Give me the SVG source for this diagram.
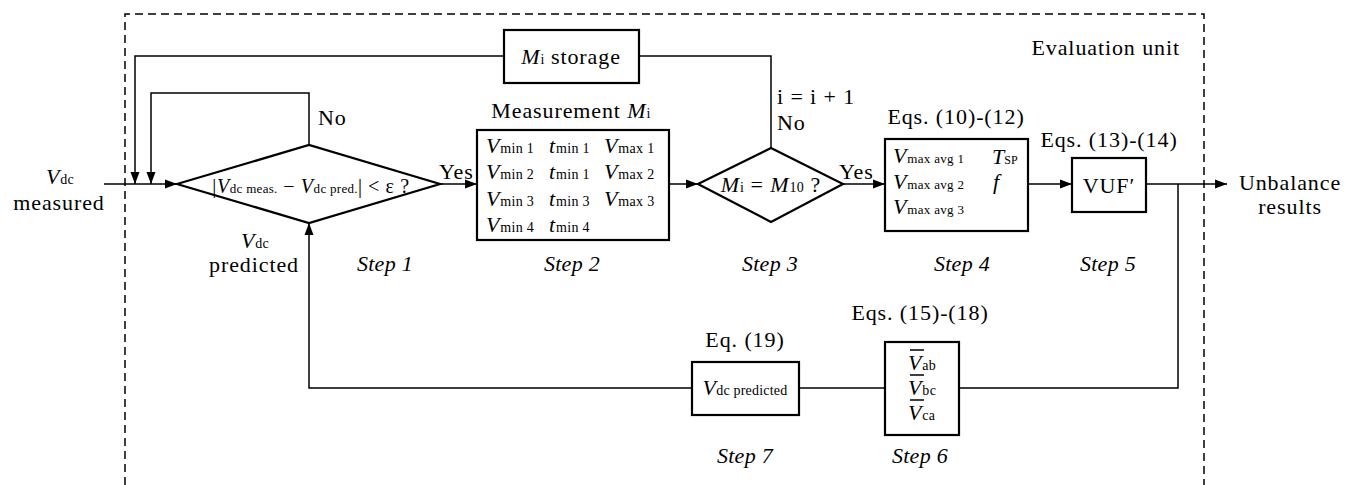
<svg xmlns="http://www.w3.org/2000/svg" width="1351" height="485" viewBox="0 0 1351 485">
  <style>
    text { font-family: "Liberation Serif", "Times New Roman", serif; font-size: 22px; letter-spacing: 0.9px; fill: #000; }
    .it { font-style: italic; }
    .step { font-style: italic; letter-spacing: 0.3px; }
    .s { font-size: 14px; font-style: normal; letter-spacing: 0.3px; }
    .ss { font-size: 13px; font-style: normal; letter-spacing: 0.3px; }
    .mid { text-anchor: middle; }
    .box { fill: #fff; stroke: #000; stroke-width: 2.2; }
    .wire { fill: none; stroke: #000; stroke-width: 1.5; }
    .border { fill: none; stroke: #000; stroke-width: 1.5; stroke-dasharray: 8 5; }
  </style>
  <defs>
    <marker id="arrow" markerUnits="userSpaceOnUse" markerWidth="13" markerHeight="10" refX="12" refY="5" orient="auto">
      <path d="M0,0.5 L12,5 L0,9.5 Z" fill="#000"/>
    </marker>
  </defs>

  <!-- evaluation unit frame -->
  <path class="border" d="M125,485 V14 H1204 V485"/>
  <text x="1180" y="55" style="text-anchor:end">Evaluation unit</text>

  <!-- connectors -->
  <g id="connectors">
    <path class="wire" d="M104,184 H177" marker-end="url(#arrow)"/>
    <path class="wire" d="M504,56 H135 V184" marker-end="url(#arrow)"/>
    <path class="wire" d="M639,56 H771 V148"/>
    <path class="wire" d="M309,145 V93 H151 V184" marker-end="url(#arrow)"/>
    <path class="wire" d="M440,184 H477" marker-end="url(#arrow)"/>
    <path class="wire" d="M669,184 H698" marker-end="url(#arrow)"/>
    <path class="wire" d="M843,184 H885" marker-end="url(#arrow)"/>
    <path class="wire" d="M1028,184 H1072" marker-end="url(#arrow)"/>
    <path class="wire" d="M1146,184 H1227" marker-end="url(#arrow)"/>
    <path class="wire" d="M1178,184 V388 H959"/>
    <path class="wire" d="M885,388 H799"/>
    <path class="wire" d="M692,388 H309 V223" marker-end="url(#arrow)"/>
  </g>

  <!-- input / output labels -->
  <g id="input">
    <text x="60" y="184" class="mid"><tspan class="it">V</tspan><tspan class="s">dc</tspan></text>
    <text x="59" y="210" class="mid">measured</text>
  </g>
  <g id="output">
    <text x="1290" y="190" class="mid">Unbalance</text>
    <text x="1290" y="214" class="mid">results</text>
  </g>

  <!-- Step 1: comparison -->
  <g id="step1">
    <polygon class="box" points="177,184 309,145 440,184 309,223"/>
    <text x="311" y="193" class="mid" style="font-size:20px;letter-spacing:0.6px">|<tspan class="it">V</tspan><tspan class="ss">dc meas.</tspan> − <tspan class="it">V</tspan><tspan class="ss">dc pred.</tspan>| &lt; ε ?</text>
    <text x="318" y="125">No</text>
    <text x="439" y="179">Yes</text>
    <text x="255" y="248" class="mid"><tspan class="it">V</tspan><tspan class="s">dc</tspan></text>
    <text x="254" y="272" class="mid">predicted</text>
    <text x="385" y="271" class="mid step">Step 1</text>
  </g>

  <!-- storage of measurements -->
  <g id="storage">
    <rect class="box" x="504" y="30" width="135" height="53"/>
    <text x="571" y="64" class="mid"><tspan class="it">M</tspan><tspan class="s">i</tspan>  storage</text>
  </g>

  <!-- Step 2: measurement -->
  <g id="step2">
    <rect class="box" x="477" y="130" width="192" height="110"/>
    <text x="571" y="118" class="mid">Measurement <tspan class="it">M</tspan><tspan class="s">i</tspan></text>
    <text x="486" y="153"><tspan class="it">V</tspan><tspan class="s">min 1</tspan></text>
    <text x="549" y="153"><tspan class="it">t</tspan><tspan class="s">min 1</tspan></text>
    <text x="604" y="153"><tspan class="it">V</tspan><tspan class="s">max 1</tspan></text>
    <text x="486" y="179"><tspan class="it">V</tspan><tspan class="s">min 2</tspan></text>
    <text x="549" y="179"><tspan class="it">t</tspan><tspan class="s">min 1</tspan></text>
    <text x="604" y="179"><tspan class="it">V</tspan><tspan class="s">max 2</tspan></text>
    <text x="486" y="206"><tspan class="it">V</tspan><tspan class="s">min 3</tspan></text>
    <text x="549" y="206"><tspan class="it">t</tspan><tspan class="s">min 3</tspan></text>
    <text x="604" y="206"><tspan class="it">V</tspan><tspan class="s">max 3</tspan></text>
    <text x="486" y="232"><tspan class="it">V</tspan><tspan class="s">min 4</tspan></text>
    <text x="549" y="232"><tspan class="it">t</tspan><tspan class="s">min 4</tspan></text>
    <text x="572" y="271" class="mid step">Step 2</text>
  </g>

  <!-- Step 3: completeness check -->
  <g id="step3">
    <polygon class="box" points="698,184 771,148 843,184 771,222"/>
    <text x="771" y="192" class="mid"><tspan class="it">M</tspan><tspan class="s">i</tspan> = <tspan class="it">M</tspan><tspan class="s">10</tspan> ?</text>
    <text x="777" y="104">i = i + 1</text>
    <text x="777" y="130">No</text>
    <text x="839" y="179">Yes</text>
    <text x="770" y="271" class="mid step">Step 3</text>
  </g>

  <!-- Step 4: averages -->
  <g id="step4">
    <rect class="box" x="885" y="139" width="143" height="92"/>
    <text x="956" y="124" class="mid">Eqs. (10)-(12)</text>
    <text x="893" y="163"><tspan class="it">V</tspan><tspan class="ss">max avg 1</tspan></text>
    <text x="893" y="189"><tspan class="it">V</tspan><tspan class="ss">max avg 2</tspan></text>
    <text x="893" y="214"><tspan class="it">V</tspan><tspan class="ss">max avg 3</tspan></text>
    <text x="992" y="164" style="letter-spacing:0"><tspan class="it">T</tspan><tspan style="font-size:12px">SP</tspan></text>
    <text x="993" y="189" class="it">f</text>
    <text x="962" y="271" class="mid step">Step 4</text>
  </g>

  <!-- Step 5: unbalance factor -->
  <g id="step5">
    <rect class="box" x="1072" y="158" width="74" height="54"/>
    <text x="1109" y="147" class="mid">Eqs. (13)-(14)</text>
    <text x="1109" y="193" class="mid">VUF′</text>
    <text x="1108" y="271" class="mid step">Step 5</text>
  </g>

  <!-- Step 6: line voltages -->
  <g id="step6">
    <rect class="box" x="885" y="342" width="74" height="93"/>
    <text x="920" y="320" class="mid">Eqs. (15)-(18)</text>
    <text x="908" y="370"><tspan class="it">V</tspan><tspan class="s">ab</tspan></text>
    <text x="908" y="395"><tspan class="it">V</tspan><tspan class="s">bc</tspan></text>
    <text x="908" y="420"><tspan class="it">V</tspan><tspan class="s">ca</tspan></text>
    <path d="M910,350 H924 M910,375 H924 M910,400 H924" stroke="#000" stroke-width="1.4"/>
    <text x="920" y="463" class="mid step">Step 6</text>
  </g>

  <!-- Step 7: predicted DC voltage -->
  <g id="step7">
    <rect class="box" x="692" y="362" width="107" height="53"/>
    <text x="745" y="347" class="mid">Eq. (19)</text>
    <text x="745" y="395" class="mid" style="letter-spacing:0.2px"><tspan class="it">V</tspan><tspan style="font-size:14px">dc predicted</tspan></text>
    <text x="745" y="463" class="mid step">Step 7</text>
  </g>
</svg>
